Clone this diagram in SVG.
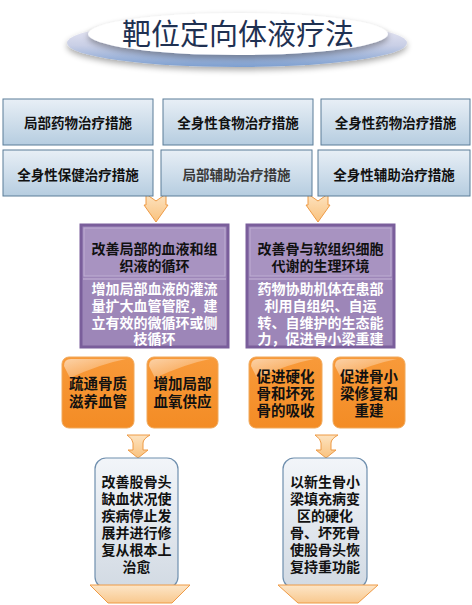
<svg xmlns="http://www.w3.org/2000/svg" width="472" height="605" viewBox="0 0 472 605">
<defs>
<linearGradient id="gBlue" x1="0" y1="0" x2="0" y2="1"><stop offset="0" stop-color="#e8eff6"/><stop offset="1" stop-color="#b6cde0"/></linearGradient>
<linearGradient id="gOuter" x1="0" y1="0" x2="0" y2="1"><stop offset="0" stop-color="#f4f0f8"/><stop offset="0.55" stop-color="#c9cfe6"/><stop offset="1" stop-color="#7d9fd0"/></linearGradient>
<linearGradient id="gArrow" x1="0" y1="0" x2="0" y2="1"><stop offset="0" stop-color="#fde3c0"/><stop offset="1" stop-color="#f9c27e"/></linearGradient>
<linearGradient id="gOrange" x1="0" y1="0" x2="0" y2="1"><stop offset="0" stop-color="#f89a3a"/><stop offset="1" stop-color="#f38c25"/></linearGradient>
<linearGradient id="gGloss" x1="0" y1="0" x2="1" y2="1"><stop offset="0" stop-color="#fff" stop-opacity="0.55"/><stop offset="1" stop-color="#fff" stop-opacity="0"/></linearGradient>
<linearGradient id="gScroll" x1="0" y1="0" x2="0" y2="1"><stop offset="0" stop-color="#f2f5f9"/><stop offset="1" stop-color="#d2dae3"/></linearGradient>
<linearGradient id="gTrap" x1="0" y1="0" x2="0" y2="1"><stop offset="0" stop-color="#fde6c8"/><stop offset="1" stop-color="#f8c88e"/></linearGradient>
<filter id="shadow" x="-20%" y="-20%" width="140%" height="160%"><feGaussianBlur in="SourceAlpha" stdDeviation="3"/><feOffset dy="3"/><feComponentTransfer><feFuncA type="linear" slope="0.35"/></feComponentTransfer><feMerge><feMergeNode/><feMergeNode in="SourceGraphic"/></feMerge></filter>
</defs>
<style>
.t{font-family:"Noto Sans CJK SC","Noto Sans CJK TC",sans-serif;font-weight:bold;fill:#111;text-anchor:middle}
.top{font-size:13.5px}
.pur{font-size:14px}
.wt{fill:#fff}
.org{font-size:14.5px}
.scr{font-size:14px}
.blue{fill:url(#gBlue);stroke:#5b7c98;stroke-width:1}
.arr{fill:url(#gArrow);stroke:#ee9a45;stroke-width:1}
.pbox{fill:#9d86b8;stroke:#7a5e9b;stroke-width:3}
.phead{fill:#a893c1;stroke:#bfaed3;stroke-width:1}
.obox{fill:url(#gOrange);stroke:#f0a85a;stroke-width:1}
.scroll{fill:url(#gScroll);stroke:#6f8fae;stroke-width:1.2}
.trap{fill:url(#gTrap);stroke:#ee9a45;stroke-width:1}
</style>
<rect width="472" height="605" fill="#fff"/>
<g id="title">
<ellipse cx="237" cy="43" rx="170" ry="24" fill="url(#gOuter)" filter="url(#shadow)"/>
<ellipse cx="238" cy="34" rx="150" ry="21" fill="#fff" filter="url(#shadow)"/>
<text x="238" y="45" font-family="'Noto Sans CJK SC',sans-serif" font-size="29" fill="#1f3152" text-anchor="middle">靶位定向体液疗法</text>
</g>
<g id="connectors">
<path class="arr" d="M146,194 L156,201 L166,194 L166,205 L168,205 L156,222 L144,205 L146,205 Z"/>
<path class="arr" d="M308,194 L318,201 L328,194 L328,205 L330,205 L318,222 L306,205 L308,205 Z"/>
<path class="arr" d="M127,435 L150,435 Q143,439 143,443 L143,450 L148,450 L138,458 L128,450 L133,450 L133,443 Q133,439 127,435 Z"/>
<path class="arr" d="M315,435 L338,435 Q331,439 331,443 L331,450 L336,450 L326,458 L316,450 L321,450 L321,443 Q321,439 315,435 Z"/>
</g>
<g id="n1"><rect class="blue" x="3" y="99" width="150" height="46"/><text class="t top" x="78" y="128">局部药物治疗措施</text></g>
<g id="n2"><rect class="blue" x="163" y="99" width="150" height="46"/><text class="t top" x="238" y="128">全身性食物治疗措施</text></g>
<g id="n3"><rect class="blue" x="321" y="99" width="149" height="46"/><text class="t top" x="395.5" y="128">全身性药物治疗措施</text></g>
<g id="n4"><rect class="blue" x="3" y="150" width="150" height="46"/><text class="t top" x="78" y="180">全身性保健治疗措施</text></g>
<g id="n5"><rect class="blue" x="161" y="150" width="151" height="46"/><text class="t top" x="236.5" y="180" style="fill:#3a3a3a">局部辅助治疗措施</text></g>
<g id="n6"><rect class="blue" x="318" y="150" width="152" height="46"/><text class="t top" x="394" y="180">全身性辅助治疗措施</text></g>
<g id="p1">
<rect class="pbox" x="81" y="225" width="147" height="122"/>
<rect class="phead" x="84" y="228" width="141" height="48"/>
<line x1="83" y1="279" x2="226" y2="279" stroke="#c8b8da" stroke-width="1"/>
<text class="t pur" y="254"><tspan x="154.5">改善局部的血液和组</tspan><tspan x="154.5" dy="17">织液的循环</tspan></text>
<text class="t pur wt" y="294"><tspan x="154.5">增加局部血液的灌流</tspan><tspan x="154.5" dy="17">量扩大血管管腔，建</tspan><tspan x="154.5" dy="17">立有效的微循环或侧</tspan><tspan x="154.5" dy="16">枝循环</tspan></text>
</g>
<g id="p2">
<rect class="pbox" x="247" y="225" width="147" height="122"/>
<rect class="phead" x="250" y="228" width="141" height="48"/>
<line x1="249" y1="279" x2="392" y2="279" stroke="#c8b8da" stroke-width="1"/>
<text class="t pur" y="254"><tspan x="320.5">改善骨与软组织细胞</tspan><tspan x="320.5" dy="17">代谢的生理环境</tspan></text>
<text class="t pur wt" y="294"><tspan x="320.5">药物协助机体在患部</tspan><tspan x="320.5" dy="17">利用自组织、自运</tspan><tspan x="320.5" dy="17">转、自维护的生态能</tspan><tspan x="320.5" dy="16">力，促进骨小梁重建</tspan></text>
</g>
<g id="o1"><rect class="obox" x="62" y="357" width="72" height="71" rx="7"/><path d="M64,366 Q64,359 71,359 L126,359 Q100,364 70,378 Z" fill="url(#gGloss)"/><text class="t org" y="389"><tspan x="98">疏通骨质</tspan><tspan x="98" dy="18">滋养血管</tspan></text></g>
<g id="o2"><rect class="obox" x="147" y="357" width="71" height="71" rx="7"/><path d="M149,366 Q149,359 156,359 L210,359 Q185,364 155,378 Z" fill="url(#gGloss)"/><text class="t org" y="389"><tspan x="182.5">增加局部</tspan><tspan x="182.5" dy="18">血氧供应</tspan></text></g>
<g id="o3"><rect class="obox" x="249" y="357" width="73" height="71" rx="7"/><path d="M251,366 Q251,359 258,359 L314,359 Q288,364 257,378 Z" fill="url(#gGloss)"/><text class="t org" y="382"><tspan x="285.5">促进硬化</tspan><tspan x="285.5" dy="17">骨和坏死</tspan><tspan x="285.5" dy="17">骨的吸收</tspan></text></g>
<g id="o4"><rect class="obox" x="333" y="357" width="72" height="71" rx="7"/><path d="M335,366 Q335,359 342,359 L397,359 Q371,364 341,378 Z" fill="url(#gGloss)"/><text class="t org" y="382"><tspan x="369">促进骨小</tspan><tspan x="369" dy="17">梁修复和</tspan><tspan x="369" dy="17">重建</tspan></text></g>
<g id="s1">
<rect class="scroll" x="95" y="458" width="83" height="130" rx="11"/>
<path class="trap" d="M90,585 L190,585 L172,603 L108,603 Z"/>
<text class="t scr" y="487"><tspan x="136.5">改善股骨头</tspan><tspan x="136.5" dy="17">缺血状况使</tspan><tspan x="136.5" dy="17">疾病停止发</tspan><tspan x="136.5" dy="17">展并进行修</tspan><tspan x="136.5" dy="16.5">复从根本上</tspan><tspan x="136.5" dy="17.5">治愈</tspan></text>
</g>
<g id="s2">
<rect class="scroll" x="283" y="458" width="84" height="130" rx="11"/>
<path class="trap" d="M278,585 L378,585 L358,603 L298,603 Z"/>
<text class="t scr" y="487"><tspan x="325">以新生骨小</tspan><tspan x="325" dy="17">梁填充病变</tspan><tspan x="325" dy="17">区的硬化</tspan><tspan x="325" dy="17">骨、坏死骨</tspan><tspan x="325" dy="16.5">使股骨头恢</tspan><tspan x="325" dy="17.5">复持重功能</tspan></text>
</g>
</svg>
